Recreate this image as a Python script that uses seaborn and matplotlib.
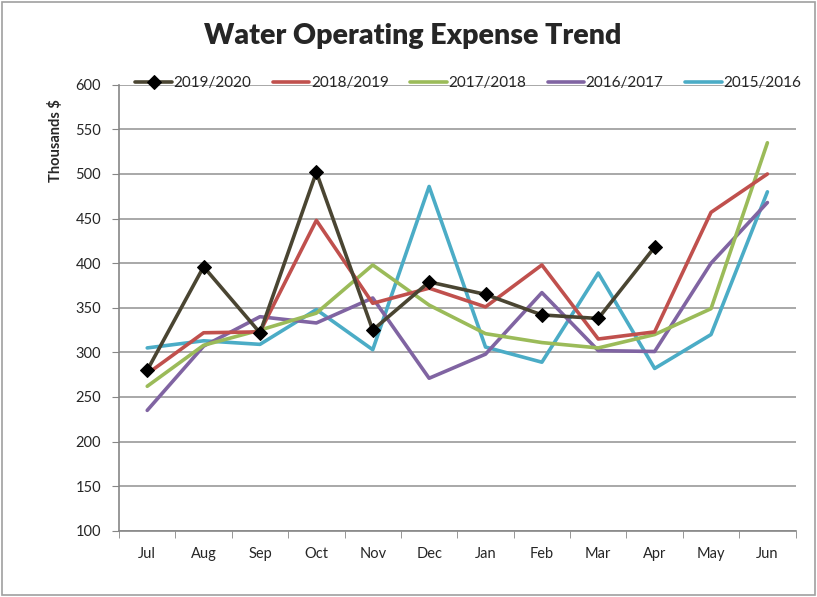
import numpy as np
import pandas as pd
import matplotlib.pyplot as plt
import seaborn as sns
from matplotlib.patches import Rectangle

months = ['Jul', 'Aug', 'Sep', 'Oct', 'Nov', 'Dec', 'Jan', 'Feb', 'Mar', 'Apr', 'May', 'Jun']

fy1920 = [280, 396, 322, 502, 325, 379, 365, 342, 338, 418]
fy1819 = [276, 322, 323, 448, 355, 372, 351, 398, 315, 323, 457, 500]
fy1718 = [262, 308, 325, 344, 398, 353, 321, 311, 305, 320, 349, 535]
fy1617 = [235, 307, 340, 333, 361, 271, 298, 367, 302, 301, 400, 468]
fy1516 = [305, 313, 309, 348, 303, 486, 306, 289, 389, 282, 320, 480]

series = {
    '2019/2020': fy1920,
    '2018/2019': fy1819,
    '2017/2018': fy1718,
    '2016/2017': fy1617,
    '2015/2016': fy1516,
}
colors = {
    '2019/2020': '#4a4532',
    '2018/2019': '#c0504d',
    '2017/2018': '#9bbb59',
    '2016/2017': '#8064a2',
    '2015/2016': '#4bacc6',
}

rows = []
for name, vals in series.items():
    for i, v in enumerate(vals):
        rows.append({'pos': i, 'value': v, 'Year': name})
df = pd.DataFrame(rows)

sns.set_style('white')
plt.rcParams['font.family'] = ['Lato', 'DejaVu Sans']

fig = plt.figure(figsize=(8.17, 5.97), dpi=100)
ax = fig.add_axes([0.1457, 0.1109, 0.8281, 0.7471])

# older years drawn first so 2019/2020 sits on top
for name in list(series.keys())[::-1]:
    sub = df[df['Year'] == name]
    if name == '2019/2020':
        sns.lineplot(data=sub, x='pos', y='value', ax=ax, color=colors[name], linewidth=2.6,
                     marker='D', markersize=7, markerfacecolor='black', markeredgecolor='black',
                     label=name, zorder=5)
    else:
        sns.lineplot(data=sub, x='pos', y='value', ax=ax, color=colors[name], linewidth=2.6,
                     label=name, zorder=3)

ax.set_xlim(-0.5, len(months) - 0.5)
ax.set_ylim(100, 600)
ax.set_yticks(np.arange(100, 601, 50))
ax.set_xticks(np.arange(len(months)))
ax.set_xticklabels(months)
ax.set_xticks(np.arange(-0.5, len(months)), minor=True)
ax.tick_params(axis='x', which='major', length=0, pad=12, labelsize=10.5)
ax.tick_params(axis='x', which='minor', length=5, color='#868686', direction='out', bottom=True)
ax.tick_params(axis='y', which='major', length=5, color='#868686', direction='out', left=True, labelsize=10.5, pad=8)
ax.set_xlabel('')
ax.set_ylabel('')
ax.grid(axis='y', color='#9a9a9a', linewidth=1.2)
ax.set_axisbelow(True)
for s in ['top', 'right']:
    ax.spines[s].set_visible(False)
for s in ['left', 'bottom']:
    ax.spines[s].set_color('#868686')
    ax.spines[s].set_linewidth(1.2)

handles, labels = ax.get_legend_handles_labels()
order = [labels.index(n) for n in series.keys()]
ax.legend([handles[i] for i in order], [labels[i] for i in order], ncol=5, frameon=False,
          loc='center', bbox_to_anchor=(0.573, 0.861), bbox_transform=fig.transFigure,
          fontsize=11, handlelength=2.4, handletextpad=0.1, columnspacing=1.4, borderaxespad=0)

fig.text(0.505, 0.94, 'Water Operating Expense Trend', ha='center', va='center',
         fontsize=20.5, fontweight='heavy')
fig.text(0.068, 0.765, 'Thousands $', rotation=90, ha='center', va='center',
         fontsize=10.5, fontweight='bold')

fig.patches.append(Rectangle((0.003, 0.003), 0.994, 0.994, transform=fig.transFigure,
                             fill=False, edgecolor='#a0a0a0', linewidth=1.2))

fig.savefig('out.png', dpi=100)
